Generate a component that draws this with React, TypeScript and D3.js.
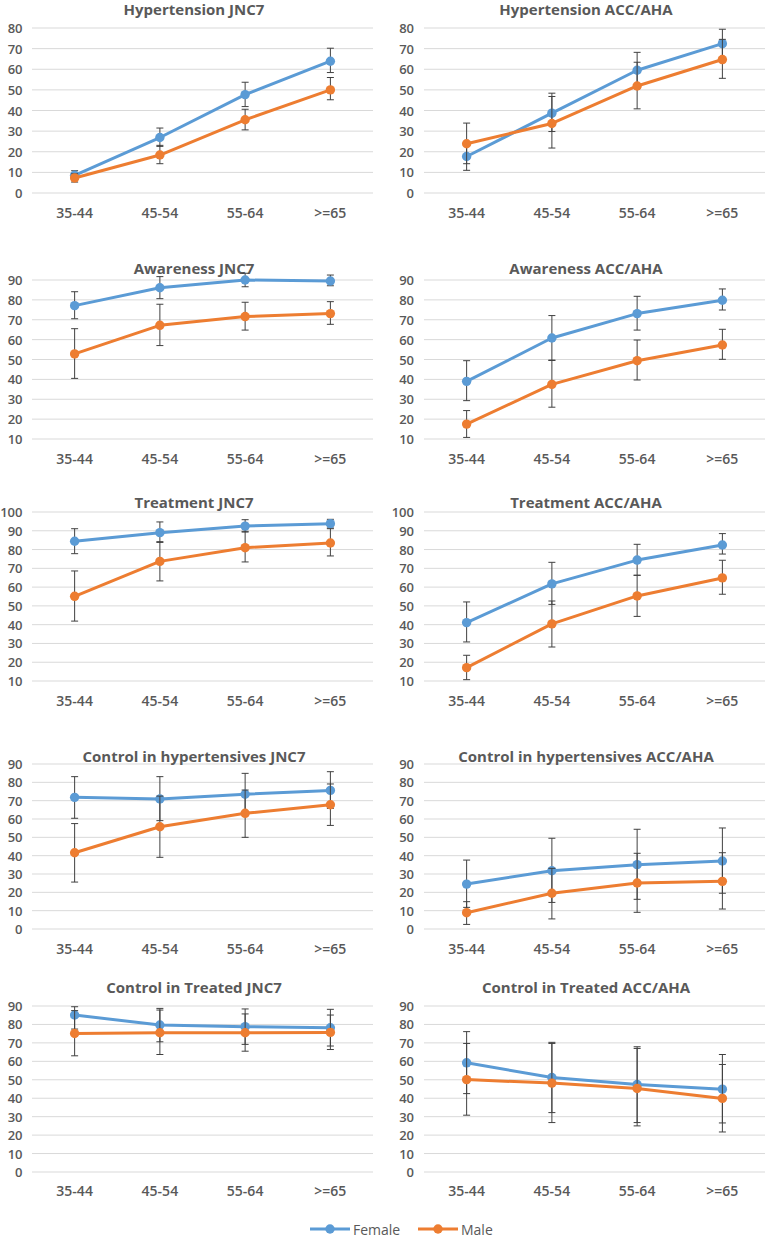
import React from "react";
import * as d3 from "d3";

type Pt = [number, number, number]; // [value, lower, upper]

const categories = ["35-44", "45-54", "55-64", ">=65"];
const seriesNames = ["Female", "Male"];

const titles = [
  "Hypertension JNC7",
  "Hypertension ACC/AHA",
  "Awareness JNC7",
  "Awareness ACC/AHA",
  "Treatment JNC7",
  "Treatment ACC/AHA",
  "Control in hypertensives JNC7",
  "Control in hypertensives ACC/AHA",
  "Control in Treated JNC7",
  "Control in Treated ACC/AHA",
];

const hypJnc7Female: Pt[] = [[8.6, 6.6, 10.8], [26.9, 22.6, 31.5], [47.7, 41.9, 53.7], [63.9, 58.4, 70.2]];
const hypJnc7Male: Pt[] = [[7.3, 5.3, 9.3], [18.4, 14.2, 23.1], [35.5, 30.6, 40.6], [50.0, 45.2, 56.0]];
const hypAccFemale: Pt[] = [[17.7, 11.0, 24.4], [38.7, 29.8, 48.4], [59.5, 50.8, 68.2], [72.4, 65.5, 79.4]];
const hypAccMale: Pt[] = [[23.9, 14.2, 33.9], [33.7, 21.8, 46.8], [51.9, 40.8, 63.4], [64.7, 55.6, 74.5]];

const awaJnc7Female: Pt[] = [[77.1, 70.5, 84.1], [86.1, 80.6, 91.7], [90.0, 86.6, 93.4], [89.5, 87.1, 92.5]];
const awaJnc7Male: Pt[] = [[52.8, 40.5, 65.5], [67.2, 57.0, 77.8], [71.6, 64.8, 78.8], [73.1, 67.7, 79.1]];
const awaAccFemale: Pt[] = [[39.0, 29.3, 49.4], [60.8, 49.7, 72.1], [73.1, 64.8, 81.8], [79.8, 74.9, 85.5]];
const awaAccMale: Pt[] = [[17.5, 10.8, 24.3], [37.5, 26.0, 49.5], [49.4, 39.7, 59.8], [57.3, 50.1, 65.2]];

const trtJnc7Female: Pt[] = [[84.4, 77.8, 91.1], [89.0, 83.8, 94.7], [92.5, 89.3, 95.9], [93.8, 91.5, 96.1]];
const trtJnc7Male: Pt[] = [[55.1, 41.9, 68.6], [73.7, 63.3, 84.2], [81.0, 73.4, 89.7], [83.5, 76.6, 91.1]];
const trtAccFemale: Pt[] = [[41.1, 30.8, 52.1], [61.7, 50.8, 73.2], [74.4, 66.3, 82.8], [82.4, 77.6, 88.5]];
const trtAccMale: Pt[] = [[17.1, 10.7, 23.7], [40.4, 28.1, 52.6], [55.3, 44.4, 66.3], [64.9, 56.2, 74.3]];

const ctlHypJnc7Female: Pt[] = [[71.8, 60.4, 83.1], [70.9, 59.1, 83.1], [73.5, 62.2, 84.9], [75.6, 65.8, 85.8]];
const ctlHypJnc7Male: Pt[] = [[41.6, 25.6, 57.5], [55.8, 39.1, 72.5], [63.1, 50.0, 75.8], [67.8, 56.5, 79.1]];
const ctlHypAccFemale: Pt[] = [[24.5, 11.8, 37.6], [31.8, 14.5, 49.5], [35.1, 16.2, 54.4], [37.1, 19.5, 55.1]];
const ctlHypAccMale: Pt[] = [[8.9, 2.5, 14.9], [19.5, 5.5, 33.1], [25.1, 9.1, 41.3], [26.0, 10.9, 41.6]];

const ctlTrtJnc7Female: Pt[] = [[85.1, 77.5, 89.6], [79.7, 70.6, 88.7], [78.8, 69.2, 88.4], [78.2, 68.3, 88.2]];
const ctlTrtJnc7Male: Pt[] = [[75.1, 63.0, 87.5], [75.5, 63.7, 87.8], [75.5, 65.5, 85.7], [75.7, 66.4, 85.1]];
const ctlTrtAccFemale: Pt[] = [[59.2, 42.5, 76.1], [51.2, 32.2, 70.3], [47.4, 26.8, 67.0], [44.9, 26.6, 63.7]];
const ctlTrtAccMale: Pt[] = [[50.1, 30.8, 69.7], [48.2, 26.8, 69.7], [45.3, 25.0, 67.9], [39.9, 21.7, 58.3]];

const yTicks0to80 = [0, 10, 20, 30, 40, 50, 60, 70, 80];
const yTicks10to90 = [10, 20, 30, 40, 50, 60, 70, 80, 90];
const yTicks10to100 = [10, 20, 30, 40, 50, 60, 70, 80, 90, 100];
const yTicks0to90 = [0, 10, 20, 30, 40, 50, 60, 70, 80, 90];

const femaleData = [hypJnc7Female, hypAccFemale, awaJnc7Female, awaAccFemale, trtJnc7Female, trtAccFemale, ctlHypJnc7Female, ctlHypAccFemale, ctlTrtJnc7Female, ctlTrtAccFemale];
const maleData = [hypJnc7Male, hypAccMale, awaJnc7Male, awaAccMale, trtJnc7Male, trtAccMale, ctlHypJnc7Male, ctlHypAccMale, ctlTrtJnc7Male, ctlTrtAccMale];
const rowTicks = [yTicks0to80, yTicks10to90, yTicks10to100, yTicks0to90, yTicks0to90];

const FEMALE = "#5B9BD5";
const MALE = "#ED7D31";
const TEXT = "#595959";
const GRID = "#D9D9D9";
const ERR = "#404040";
const FONT = "'Open Sans', 'DejaVu Sans', sans-serif";

const rowLayout = [
  { titleY: 9, top: 28, bottom: 193, labelY: 212 },
  { titleY: 268, top: 280, bottom: 439, labelY: 458 },
  { titleY: 502, top: 512, bottom: 681, labelY: 700 },
  { titleY: 756, top: 764, bottom: 929, labelY: 948 },
  { titleY: 987, top: 1006, bottom: 1172, labelY: 1190 },
];
const colLayout = [
  { left: 32, right: 373, tickX: 22.5, titleX: 194 },
  { left: 424, right: 765, tickX: 414, titleX: 586 },
];

function Panel({ idx }: { idx: number }) {
  const row = Math.floor(idx / 2);
  const col = idx % 2;
  const rl = rowLayout[row];
  const cl = colLayout[col];
  const ticks = rowTicks[row];
  const y = d3.scaleLinear().domain([ticks[0], ticks[ticks.length - 1]]).range([rl.bottom, rl.top]);
  const x = d3.scalePoint<string>().domain(categories).range([cl.left, cl.right]).padding(0.5);
  const line = d3
    .line<Pt>()
    .x((_, i) => x(categories[i]) as number)
    .y((d) => y(d[0]));
  const series = [
    { data: femaleData[idx], color: FEMALE },
    { data: maleData[idx], color: MALE },
  ];
  const cap = 3.5;
  return (
    <g>
      {ticks.map((t) => (
        <g key={t}>
          <line x1={cl.left} x2={cl.right} y1={y(t)} y2={y(t)} stroke={GRID} strokeWidth={1} />
          <text x={cl.tickX} y={y(t)} textAnchor="end" dominantBaseline="central" fontSize={13} fontWeight={600} fill={TEXT} fontFamily={FONT}>
            {t}
          </text>
        </g>
      ))}
      {categories.map((c) => (
        <text key={c} x={x(c)} y={rl.labelY} textAnchor="middle" dominantBaseline="central" fontSize={14} fontWeight={600} fill={TEXT} fontFamily={FONT}>
          {c}
        </text>
      ))}
      <text x={cl.titleX} y={rl.titleY} textAnchor="middle" dominantBaseline="central" fontSize={15} fontWeight={700} fill={TEXT} fontFamily={FONT}>
        {titles[idx]}
      </text>
      {series.map((s, si) => (
        <g key={si}>
          <path d={line(s.data) || ""} fill="none" stroke={s.color} strokeWidth={3} strokeLinejoin="round" />
          {s.data.map((d, i) => {
            const cx = x(categories[i]) as number;
            return (
              <g key={i} stroke={ERR} strokeWidth={1}>
                <line x1={cx} x2={cx} y1={y(d[1])} y2={y(d[2])} />
                <line x1={cx - cap} x2={cx + cap} y1={y(d[1])} y2={y(d[1])} />
                <line x1={cx - cap} x2={cx + cap} y1={y(d[2])} y2={y(d[2])} />
              </g>
            );
          })}
          {s.data.map((d, i) => (
            <circle key={i} cx={x(categories[i]) as number} cy={y(d[0])} r={4.7} fill={s.color} />
          ))}
        </g>
      ))}
    </g>
  );
}

export default function App() {
  const legendItems = [
    { name: seriesNames[0], color: FEMALE, x: 310 },
    { name: seriesNames[1], color: MALE, x: 418 },
  ];
  return (
    <svg width={767} height={1237} style={{ position: "absolute", left: 0, top: 0, background: "#fff" }}>
      <rect width={767} height={1237} fill="#fff" />
      {titles.map((_, i) => (
        <Panel key={i} idx={i} />
      ))}
      {legendItems.map((l) => (
        <g key={l.name}>
          <line x1={l.x} x2={l.x + 40} y1={1229} y2={1229} stroke={l.color} strokeWidth={3} />
          <circle cx={l.x + 20} cy={1229} r={4.7} fill={l.color} />
          <text x={l.x + 43} y={1229} dominantBaseline="central" fontSize={14} fill={TEXT} fontFamily={FONT}>
            {l.name}
          </text>
        </g>
      ))}
    </svg>
  );
}
